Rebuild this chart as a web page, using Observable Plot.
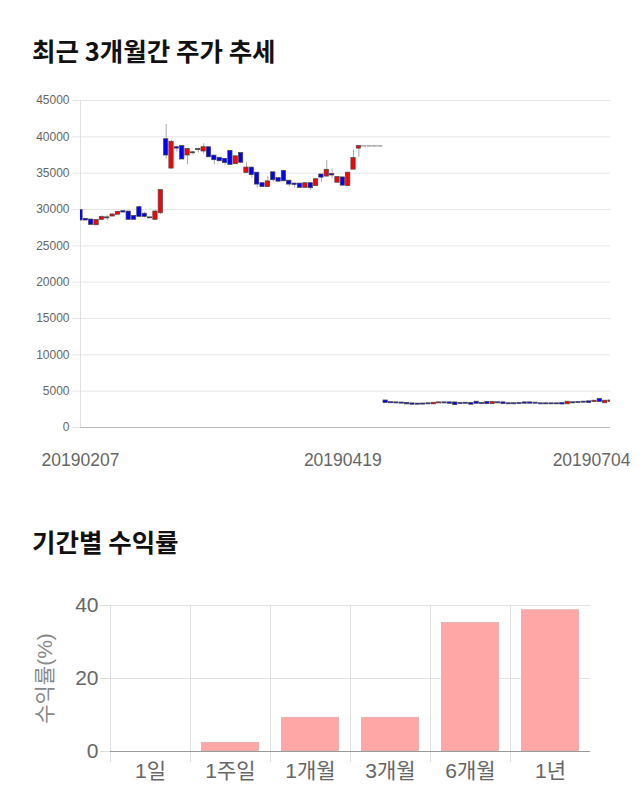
<!DOCTYPE html>
<html><head><meta charset="utf-8">
<script src="https://cdn.jsdelivr.net/npm/d3@7"></script>
<script src="https://cdn.jsdelivr.net/npm/@observablehq/plot@0.6"></script>
<style>
body{margin:0;background:#fff;width:640px;height:810px;position:relative;overflow:hidden;font-family:"Liberation Sans",Arial,"Noto Sans CJK KR",sans-serif}
.title{position:absolute;left:32px;font-family:"Noto Sans CJK KR",sans-serif;font-weight:700;font-size:25.5px;color:#111;line-height:1;white-space:nowrap}
#t1{top:37px}
#t2{top:528px}
#c1{position:absolute;left:0;top:85px}
#c2{position:absolute;left:0;top:590px}
</style></head><body>
<div class="title" id="t1">최근 3개월간 주가 추세</div>
<div id="c1"></div>
<div class="title" id="t2">기간별 수익률</div>
<div id="c2"></div>
<script>
// ---- Price chart data (daily candles, index 0..99) ----
const opens  = [29850,28650,28550,27900,28650,28850,29100,29350,29700,29650,29050,30250,29350,28850,28650,29550,
  39600,35700,38500,38650,37500,37800,38250,38050,38500,37350,37050,36900,38000,36300,37700,35100,35700,35000,
  33550,33150,35050,34250,35250,33900,33500,33500,33050,33550,33300,34750,34600,34800,33750,34350,33300,35550,38450,
  38700,38700,38700,38700,
  3650,3420,3390,3370,3330,3250,3220,3230,3260,3250,3380,3390,3390,3380,3300,3340,3310,3480,3300,3440,3300,3400,
  3390,3270,3270,3300,3390,3390,3350,3260,3260,3260,3260,3290,3260,3400,3440,3490,3530,3560,3850,3400,3600];
const closes = [28550,28550,27950,28500,28900,28850,29250,29600,29650,28650,28650,29050,29050,28850,29650,32600,
  37500,39250,38450,36950,38250,37800,38250,38500,37250,36850,36700,36450,36200,37250,36500,35700,34800,33500,
  33150,33800,34100,33900,33950,33500,33450,33050,33550,33000,34100,34450,35400,34750,34400,33350,35000,37000,38650,
  38700,38700,38700,38700,
  3420,3400,3380,3350,3250,3200,3200,3220,3250,3340,3390,3380,3330,3150,3290,3330,3200,3330,3290,3280,3440,3390,
  3300,3260,3260,3290,3340,3340,3340,3255,3255,3255,3255,3230,3480,3390,3430,3480,3440,3620,3560,3620,3650];
const highs  = [29900,28700,28600,28500,29150,29150,29350,29700,29700,29700,29100,30450,29650,28900,29850,32650,
  41700,39500,38700,38700,38400,38000,38450,39050,38550,37400,37100,37000,38000,37300,37750,36500,35750,35050,
  33600,34550,35100,34300,35300,33950,33550,33500,33600,33600,34100,34800,36750,35600,34450,34400,35050,38200,38700,
  38700,38700,38700,38700,
  3700,3450,3420,3400,3360,3280,3250,3260,3290,3370,3420,3410,3420,3400,3330,3370,3340,3510,3330,3470,3470,3420,
  3420,3300,3300,3330,3420,3420,3380,3290,3290,3290,3290,3320,3510,3430,3470,3520,3560,3650,3900,3650,3680];
const lows   = [28500,28500,27900,27850,28450,28450,29050,29300,29600,28600,28600,29000,28800,28800,28600,29300,
  36950,35600,37900,36900,36150,37500,37800,37650,37200,36150,36600,36050,36100,36200,36450,35000,34300,32950,
  33100,33000,33750,33850,33900,33150,32950,32950,33000,32600,33250,33750,34500,34250,33700,33300,33250,35500,37200,
  38700,38700,38700,38700,
  3390,3370,3350,3320,3220,3170,3170,3190,3220,3220,3350,3350,3300,3120,3260,3300,3170,3300,3260,3250,3270,3360,
  3270,3230,3230,3260,3310,3310,3310,3225,3225,3225,3225,3200,3230,3360,3400,3450,3410,3530,3530,3370,3570];
const yTicks = [0,5000,10000,15000,20000,25000,30000,35000,40000,45000];
const dateTickIdx = [0, 49, 99];
const dateTickLabels = ["20190207","20190419","20190704"];

// ---- Returns chart data ----
const periods = ["1일","1주일","1개월","3개월","6개월","1년"];
const returns = [0, 2.35, 9.2, 9.2, 35.2, 38.7];
const returnTicks = [0, 20, 40];

// ---- Price chart ----
const N = opens.length;
const candles = opens.map((o, i) => ({i, o, c: closes[i], h: highs[i], l: lows[i]}));
const bodyFill = d => d.h === d.l ? "#aaaaaa" : d.c > d.o ? "#ff0000" : d.c < d.o ? "#0000ff" : "#333333";
const bodyStroke = d => d.h === d.l ? "#aaaaaa" : "#444444";
const labelOf = new Map(dateTickIdx.map((k, j) => [k, dateTickLabels[j]]));
const font = '"Liberation Sans", Arial, "Noto Sans CJK KR", sans-serif';

const chart1 = Plot.plot({
  width: 640, height: 400,
  marginTop: 15, marginRight: 30, marginBottom: 58, marginLeft: 80,
  style: {background: "transparent", fontFamily: font, overflow: "visible"},
  x: {type: "linear", domain: [0, N - 1]},
  y: {domain: [0, 45000]},
  marks: [
    Plot.gridY(yTicks, {stroke: "#e6e6e6", strokeOpacity: 1}),
    Plot.axisY(yTicks, {tickSize: 8, tickPadding: 3, stroke: "#e6e6e6", strokeOpacity: 1, fill: "#666", fontSize: 12, tickFormat: d => String(d), label: null}),
    Plot.frame({anchor: "left", stroke: "#e0e0e0"}),
    Plot.ruleY([0], {stroke: "#bbbbbb"}),
    Plot.ruleX(candles, {x: "i", y1: "l", y2: "h", stroke: "#aaaaaa", clip: true}),
    Plot.rect(candles, {x1: d => d.i - 0.4, x2: d => d.i + 0.4, y1: "o", y2: "c", fill: bodyFill, stroke: bodyStroke, strokeWidth: 0.7, insetTop: -0.5, insetBottom: -0.5, clip: true}),
    Plot.axisX(dateTickIdx.slice(0, 2), {tickSize: 0, tickPadding: 26, fontSize: 17.5, fill: "#666", tickFormat: d => labelOf.get(d), label: null}),
    Plot.axisX(dateTickIdx.slice(2), {tickSize: 0, tickPadding: 26, fontSize: 17.5, fill: "#666", textAnchor: "end", dx: 20, tickFormat: d => labelOf.get(d), label: null})
  ]
});
document.getElementById("c1").appendChild(chart1);

// ---- Returns chart ----
const rows = periods.map((p, i) => ({p, v: returns[i]}));
const W2 = 640, ML2 = 110, MR2 = 50;
const halfBand = (W2 - ML2 - MR2) / periods.length / 2;
const chart2 = Plot.plot({
  width: W2, height: 215,
  marginTop: 15, marginRight: MR2, marginBottom: 54, marginLeft: ML2,
  style: {background: "transparent", fontFamily: font, overflow: "visible"},
  x: {domain: periods, padding: 0},
  y: {domain: [0, 40]},
  marks: [
    Plot.gridY(returnTicks, {stroke: "#e3e3e3", strokeOpacity: 1}),
    Plot.axisY(returnTicks, {tickSize: 10, tickPadding: 2, stroke: "#dddddd", strokeOpacity: 1, fill: "#666", fontSize: 21, label: null}),
    Plot.ruleX(periods, {x: d => d, dx: -halfBand, stroke: "#e0e0e0", insetBottom: -11}),
    Plot.barY(rows, {x: "p", y: "v", fill: "#ffa6a6", stroke: "#e6b3b3", strokeWidth: 1, insetLeft: 11.5, insetRight: 11.5}),
    Plot.ruleY([0], {stroke: "#999999"}),
    Plot.axisX({tickSize: 0, tickPadding: 12, fontSize: 21, fill: "#666", label: null}),
    Plot.text(["수익률(%)"], {frameAnchor: "left", textAnchor: "middle", rotate: -90, dx: -65, fontSize: 21, fill: "#888"})
  ]
});
document.getElementById("c2").appendChild(chart2);
</script>
</body></html>
